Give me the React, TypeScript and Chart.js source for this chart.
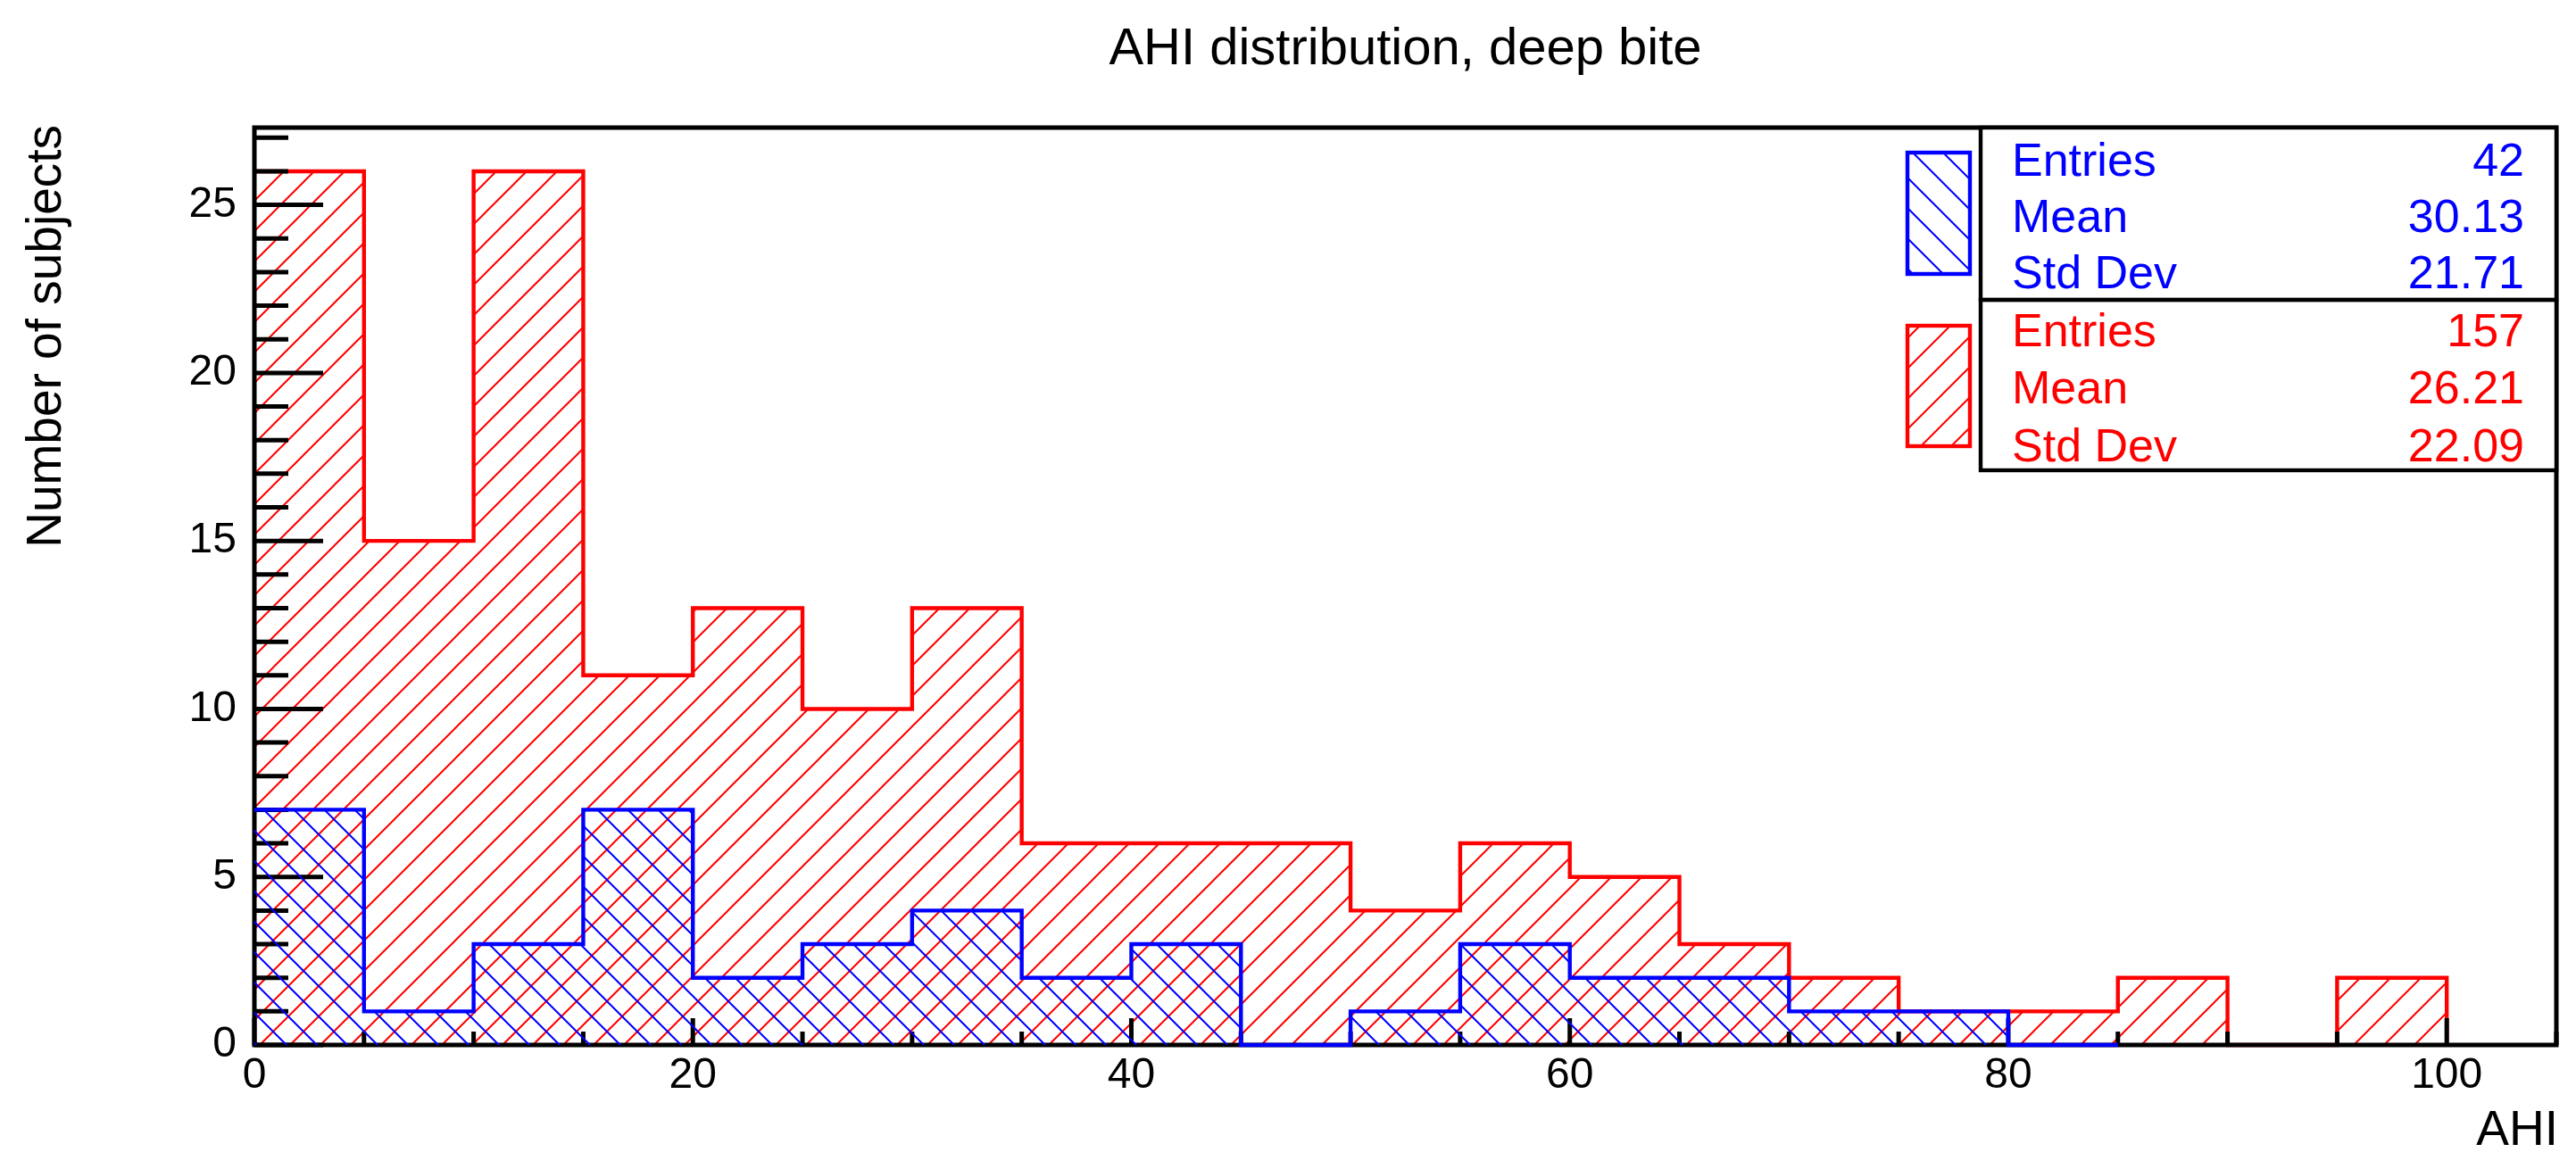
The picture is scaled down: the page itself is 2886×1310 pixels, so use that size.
import React, { useEffect, useRef } from "react";
import { Chart, registerables } from "chart.js";

Chart.register(...registerables);

// ---------------- data ----------------
const binWidth = 5;
const redLowEdges = [0, 5, 10, 15, 20, 25, 30, 35, 40, 45, 50, 55, 60, 65, 70, 75, 80, 85, 90, 95];
const redCounts = [26, 15, 26, 11, 13, 10, 13, 6, 6, 6, 4, 6, 5, 3, 2, 1, 1, 2, 0, 2];
const blueLowEdges = [0, 5, 10, 15, 20, 25, 30, 35, 40, 45, 50, 55, 60, 65, 70, 75, 80];
const blueCounts = [7, 1, 3, 7, 2, 3, 4, 2, 3, 0, 1, 3, 2, 2, 1, 1, 0];

const xTickValues = [0, 20, 40, 60, 80, 100];
const yTickValues = [0, 5, 10, 15, 20, 25];
const xMinorStep = 5;
const yMinorStep = 1;
const xRange = [0, 105];
const yRange = [0, 27.3];

const statLabels = ["Entries", "Mean", "Std Dev"];
const blueStats = ["42", "30.13", "21.71"];
const redStats = ["157", "26.21", "22.09"];

const chartTitle = "AHI distribution, deep bite";
const xTitle = "AHI";
const yTitle = "Number of subjects";

const RED = "#ff0000";
const BLUE = "#0000ff";
const FONT = "'Liberation Sans', Arial, Helvetica, sans-serif";

function histPoints(edges: number[], counts: number[]) {
  const pts = edges.map((e, i) => ({ x: e, y: counts[i] }));
  pts.push({ x: edges[edges.length - 1] + binWidth, y: 0 });
  return pts;
}

function makeHatch(ctx: CanvasRenderingContext2D, color: string, forward: boolean) {
  const s = 34;
  const c = document.createElement("canvas");
  c.width = s;
  c.height = s;
  const g = c.getContext("2d")!;
  g.strokeStyle = color;
  g.lineWidth = 2;
  g.beginPath();
  if (forward) {
    g.moveTo(-3, s + 3);
    g.lineTo(s + 3, -3);
    g.moveTo(-3, 3);
    g.lineTo(3, -3);
    g.moveTo(s - 3, s + 3);
    g.lineTo(s + 3, s - 3);
  } else {
    g.moveTo(-3, -3);
    g.lineTo(s + 3, s + 3);
    g.moveTo(s - 3, -3);
    g.lineTo(s + 3, 3);
    g.moveTo(-3, s - 3);
    g.lineTo(3, s + 3);
  }
  g.stroke();
  return ctx.createPattern(c, "repeat")!;
}

export default function App() {
  const ref = useRef<HTMLCanvasElement | null>(null);

  useEffect(() => {
    const canvas = ref.current!;
    const ctx = canvas.getContext("2d")!;
    const redPattern = makeHatch(ctx, RED, true);
    const bluePattern = makeHatch(ctx, BLUE, false);

    const axesPlugin = {
      id: "rootAxes",
      afterDatasetDraw(chart: any, args: any) {
        if (args.index !== 1) return;
        const c = chart.ctx;
        const { left, right, top, bottom } = chart.chartArea;
        const xs = chart.scales.x;
        const ys = chart.scales.y;
        c.save();
        c.strokeStyle = "#000";
        c.lineWidth = 5;
        c.lineCap = "butt";
        c.beginPath();
        for (let v = yRange[0]; v <= yRange[1]; v += yMinorStep) {
          const y = ys.getPixelForValue(v);
          const len = yTickValues.includes(v) ? 77 : 38;
          c.moveTo(left, y);
          c.lineTo(left + len, y);
        }
        for (let v = xRange[0]; v <= xRange[1]; v += xMinorStep) {
          const x = xs.getPixelForValue(v);
          const len = v % 20 === 0 ? 30 : 15;
          c.moveTo(x, bottom);
          c.lineTo(x, bottom - len);
        }
        c.stroke();
        c.strokeRect(left, top, right - left, bottom - top);
        c.restore();
      },
      afterDraw(chart: any) {
        const c = chart.ctx;
        const { right, top } = chart.chartArea;
        c.save();
        // axis titles
        c.fillStyle = "#000";
        c.font = `55px ${FONT}`;
        c.textAlign = "right";
        c.textBaseline = "alphabetic";
        c.fillText(xTitle, right + 2, 1283);
        c.translate(68, 140);
        c.rotate(-Math.PI / 2);
        c.fillText(yTitle, 0, 0);
        c.restore();

        // stats boxes
        c.save();
        const bx = 2219;
        const mid = 336;
        const bBottom = 527;
        c.fillStyle = "#fff";
        c.fillRect(bx, top, right - bx, bBottom - top);
        c.strokeStyle = "#000";
        c.lineWidth = 4.4;
        c.strokeRect(bx, top, right - bx, mid - top);
        c.strokeRect(bx, mid, right - bx, bBottom - mid);

        // legend swatches
        c.lineWidth = 4.4;
        c.fillStyle = bluePattern;
        c.fillRect(2137, 171, 70, 136);
        c.strokeStyle = BLUE;
        c.strokeRect(2137, 171, 70, 136);
        c.fillStyle = redPattern;
        c.fillRect(2137, 365, 70, 135);
        c.strokeStyle = RED;
        c.strokeRect(2137, 365, 70, 135);

        c.font = `52px ${FONT}`;
        c.textBaseline = "alphabetic";
        const blueY = [197, 260, 323];
        const redY = [388, 452, 517];
        statLabels.forEach((lab, i) => {
          c.fillStyle = BLUE;
          c.textAlign = "left";
          c.fillText(lab, 2254, blueY[i]);
          c.textAlign = "right";
          c.fillText(blueStats[i], 2828, blueY[i]);
          c.fillStyle = RED;
          c.textAlign = "left";
          c.fillText(lab, 2254, redY[i]);
          c.textAlign = "right";
          c.fillText(redStats[i], 2828, redY[i]);
        });
        c.restore();
      },
    };

    const chart = new Chart(canvas, {
      type: "line",
      data: {
        datasets: [
          {
            label: "blue",
            data: histPoints(blueLowEdges, blueCounts),
            borderColor: BLUE,
            backgroundColor: bluePattern,
            fill: "origin",
            stepped: true,
            borderWidth: 4.4,
            pointRadius: 0,
            tension: 0,
            clip: false,
            borderJoinStyle: "miter",
          },
          {
            label: "red",
            data: histPoints(redLowEdges, redCounts),
            borderColor: RED,
            backgroundColor: redPattern,
            fill: "origin",
            stepped: true,
            borderWidth: 4.4,
            pointRadius: 0,
            tension: 0,
            clip: false,
            borderJoinStyle: "miter",
          },
        ],
      } as any,
      options: {
        animation: false,
        responsive: false,
        devicePixelRatio: 1,
        events: [],
        layout: { padding: { left: 0, right: 22, top: 0, bottom: 0 } },
        plugins: {
          legend: { display: false },
          tooltip: { enabled: false },
          title: {
            display: true,
            fullSize: false,
            text: chartTitle,
            color: "#000",
            font: { family: FONT, size: 58, weight: "normal" },
            padding: { top: 21, bottom: 52.4 },
          },
        },
        scales: {
          x: {
            type: "linear",
            min: xRange[0],
            max: xRange[1],
            grid: { display: false, drawTicks: false },
            border: { display: false },
            ticks: {
              color: "#000",
              font: { family: FONT, size: 48 },
              padding: 6,
              maxRotation: 0,
              autoSkip: false,
            },
            afterBuildTicks: (s: any) => {
              s.ticks = xTickValues.map((v) => ({ value: v }));
            },
            afterFit: (s: any) => {
              s.height = 139;
            },
          },
          y: {
            type: "linear",
            min: yRange[0],
            max: yRange[1],
            grid: { display: false, drawTicks: false },
            border: { display: false },
            ticks: {
              color: "#000",
              font: { family: FONT, size: 48 },
              padding: 20,
              autoSkip: false,
            },
            afterBuildTicks: (s: any) => {
              s.ticks = yTickValues.map((v) => ({ value: v }));
            },
            afterFit: (s: any) => {
              s.width = 285;
            },
          },
        },
      } as any,
      plugins: [axesPlugin],
    });

    return () => chart.destroy();
  }, []);

  return (
    <div style={{ position: "fixed", left: 0, top: 0, width: 2886, height: 1310, background: "#fff" }}>
      <canvas ref={ref} width={2886} height={1310} style={{ display: "block", width: 2886, height: 1310 }} />
    </div>
  );
}
